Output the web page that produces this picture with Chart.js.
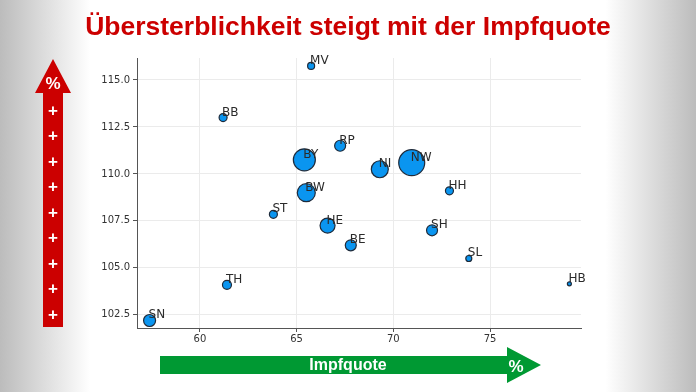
<!DOCTYPE html>
<html>
<head>
<meta charset="utf-8">
<script src="https://cdn.jsdelivr.net/npm/chart.js@4.4.0/dist/chart.umd.min.js"></script>
<style>
  html, body { margin: 0; padding: 0; background: #fff; }
  canvas { display: block; }
</style>
</head>
<body>
<canvas id="impfChart" width="696" height="392"></canvas>
<script>
  // Bundeslaender: Impfquote (%) vs. Uebersterblichkeit (%)
  const states = ["MV", "BB", "BY", "RP", "NI", "NW", "BW", "HH", "ST", "HE", "SH", "BE", "SL", "HB", "TH", "SN"];
  const impfquote = [65.75, 61.2, 65.4, 67.25, 69.3, 70.95, 65.5, 72.9, 63.8, 66.6, 72.0, 67.8, 73.9, 79.1, 61.4, 57.4];
  const uebersterblichkeit = [115.75, 113.0, 110.75, 111.5, 110.25, 110.6, 109.0, 109.1, 107.85, 107.25, 107.0, 106.2, 105.5, 104.15, 104.1, 102.2];
  const markerSizes = [3.5, 4, 11, 5.5, 8.5, 13, 9, 4, 4, 7.5, 5.5, 5.5, 3, 2, 4.5, 6];

  const xTicks = [60, 65, 70, 75];
  const yTicks = [102.5, 105.0, 107.5, 110.0, 112.5, 115.0];

  const titleText = "Übersterblichkeit steigt mit der Impfquote";
  const xArrowText = "Impfquote";

  const points = states.map((s, i) => ({ x: impfquote[i], y: uebersterblichkeit[i], r: markerSizes[i] }));

  // Background with grey fading edges
  const backgroundPlugin = {
    id: "background",
    beforeDraw(chart) {
      const { ctx, width, height } = chart;
      const g = ctx.createLinearGradient(0, 0, width, 0);
      g.addColorStop(0, "#bcbcbc");
      g.addColorStop(0.13, "#ffffff");
      g.addColorStop(0.87, "#ffffff");
      g.addColorStop(1, "#bcbcbc");
      ctx.save();
      ctx.fillStyle = g;
      ctx.fillRect(0, 0, width, height);
      ctx.restore();
    }
  };

  // State labels next to each bubble
  const labelPlugin = {
    id: "stateLabels",
    afterDatasetsDraw(chart) {
      const { ctx } = chart;
      const meta = chart.getDatasetMeta(0);
      ctx.save();
      ctx.font = "12px 'DejaVu Sans'";
      ctx.fillStyle = "#2b2b2b";
      ctx.textAlign = "left";
      ctx.textBaseline = "alphabetic";
      meta.data.forEach((el, i) => {
        ctx.fillText(states[i], el.x - 1, el.y - 2);
      });
      ctx.restore();
    }
  };

  // Title and the two arrows
  const decorPlugin = {
    id: "decor",
    afterDraw(chart) {
      const { ctx } = chart;
      ctx.save();

      // title
      ctx.fillStyle = "#cc0000";
      ctx.font = "bold 26.5px 'Liberation Sans', Arial, sans-serif";
      ctx.textAlign = "center";
      ctx.textBaseline = "alphabetic";
      ctx.fillText(titleText, 348, 35);

      // red arrow (up)
      ctx.fillStyle = "#cc0000";
      ctx.beginPath();
      ctx.moveTo(43, 327);
      ctx.lineTo(43, 93);
      ctx.lineTo(35, 93);
      ctx.lineTo(53, 59);
      ctx.lineTo(71, 93);
      ctx.lineTo(63, 93);
      ctx.lineTo(63, 327);
      ctx.closePath();
      ctx.fill();

      ctx.fillStyle = "#ffffff";
      ctx.textAlign = "center";
      ctx.textBaseline = "middle";
      ctx.font = "bold 17px 'Liberation Sans', Arial, sans-serif";
      ctx.fillText("%", 53, 84);
      for (let k = 0; k < 9; k++) {
        ctx.fillText("+", 53, 111 + k * 25.5);
      }

      // green arrow (right)
      ctx.fillStyle = "#009933";
      ctx.beginPath();
      ctx.moveTo(160, 356);
      ctx.lineTo(507, 356);
      ctx.lineTo(507, 347);
      ctx.lineTo(541, 365);
      ctx.lineTo(507, 383);
      ctx.lineTo(507, 374);
      ctx.lineTo(160, 374);
      ctx.closePath();
      ctx.fill();

      ctx.fillStyle = "#ffffff";
      ctx.textBaseline = "alphabetic";
      ctx.font = "bold 16px 'Liberation Sans', Arial, sans-serif";
      ctx.fillText(xArrowText, 348, 370);
      ctx.font = "bold 17px 'Liberation Sans', Arial, sans-serif";
      ctx.fillText("%", 516, 372);

      ctx.restore();
    }
  };

  const ctx = document.getElementById("impfChart").getContext("2d");
  const impfChart = new Chart(ctx, {
    type: "bubble",
    data: {
      datasets: [
        {
          label: "Bundesländer",
          data: points,
          backgroundColor: "#0a95f0",
          borderColor: "#1e2a3a",
          borderWidth: 1.2,
          hoverRadius: 0,
          clip: false,
        },
      ],
    },
    options: {
      responsive: false,
      animation: false,
      layout: {
        padding: { left: 0, top: 58, right: 115, bottom: 0 },
      },
      plugins: {
        legend: { display: false },
        title: { display: false },
        tooltip: { enabled: false },
      },
      scales: {
        x: {
          type: "linear",
          min: 56.75,
          max: 79.7,
          afterFit: (scale) => { scale.height = 64; },
          afterBuildTicks: (scale) => { scale.ticks = xTicks.map((v) => ({ value: v })); },
          grid: { color: "#ebebeb", tickColor: "#555", tickLength: 4, drawTicks: true },
          border: { color: "#555", width: 1 },
          ticks: {
            padding: 1,
            color: "#333",
            font: { family: "DejaVu Sans", size: 10 },
            callback: (v) => String(v),
          },
        },
        y: {
          type: "linear",
          min: 101.8,
          max: 116.17,
          afterFit: (scale) => { scale.width = 137; },
          afterBuildTicks: (scale) => { scale.ticks = yTicks.map((v) => ({ value: v })); },
          grid: { color: "#ebebeb", tickColor: "#555", tickLength: 4, drawTicks: true },
          border: { color: "#555", width: 1 },
          ticks: {
            padding: 3,
            color: "#333",
            font: { family: "DejaVu Sans", size: 10 },
            callback: (v) => Number(v).toFixed(1),
          },
        },
      },
    },
    plugins: [backgroundPlugin, labelPlugin, decorPlugin],
  });
</script>
</body>
</html>
